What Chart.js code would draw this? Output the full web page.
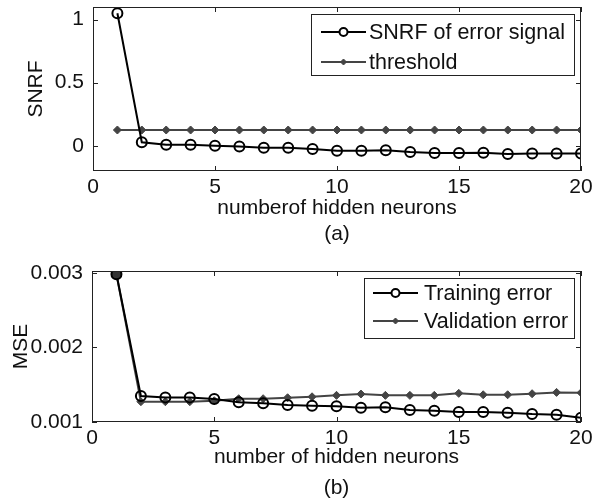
<!DOCTYPE html>
<html>
<head>
<meta charset="utf-8">
<script src="https://cdn.jsdelivr.net/npm/chart.js@4.4.1/dist/chart.umd.min.js"></script>
<style>
  body { margin: 0; background: #fff; }
  .box { position: relative; width: 592px; height: 252px; }
</style>
</head>
<body>
<div class="box"><canvas id="chartA"></canvas></div>
<div class="box"><canvas id="chartB"></canvas></div>
<script>
// hidden neurons count (x)
var neurons = [1,2,3,4,5,6,7,8,9,10,11,12,13,14,15,16,17,18,19,20];

// (a) SNRF
var snrfError = [1.05,0.028,0.008,0.008,0.0,-0.005,-0.016,-0.016,-0.026,-0.039,
                 -0.039,-0.036,-0.05,-0.058,-0.058,-0.056,-0.065,-0.062,-0.062,-0.062];
var snrfThreshold = [0.125,0.125,0.125,0.125,0.125,0.125,0.125,0.125,0.125,0.125,
                     0.125,0.125,0.125,0.125,0.125,0.125,0.125,0.125,0.125,0.125];

// (b) MSE
var trainErr = [0.00298,0.001348,0.00133,0.00133,0.001308,0.001264,0.00125,0.001227,0.001218,0.00121,
                0.001191,0.001197,0.00116,0.001151,0.001134,0.001134,0.001124,0.001107,0.001098,0.001058];
var validErr = [0.00298,0.001272,0.001272,0.001272,0.001285,0.001312,0.001312,0.001325,0.001338,0.001357,
                0.001375,0.001357,0.001357,0.001357,0.001384,0.001365,0.001365,0.001379,0.001397,0.001392];

var xTicks = [0,5,10,15,20];
var yTicksA = [0,0.5,1];
var yTicksB = [0.001,0.002,0.003];

var FONT = 'Liberation Sans, Arial, Helvetica, sans-serif';

function pts(ys) {
  return neurons.map(function(n, i){ return {x: n, y: ys[i]}; });
}

function noPad(s) {
  s.paddingLeft = 0; s.paddingRight = 0; s.paddingTop = 0; s.paddingBottom = 0;
}

// frame + inward ticks like matlab
var framePlugin = {
  id: 'frame',
  afterDatasetsDraw: function(chart) {
    var a = chart.chartArea, c = chart.ctx;
    var xs = chart.scales.x, ys = chart.scales.y;
    c.save();
    c.strokeStyle = '#222';
    c.lineWidth = 1;
    c.strokeRect(a.left + 0.5, a.top + 0.5, a.right - a.left - 1, a.bottom - a.top - 1);
    c.beginPath();
    xs.ticks.forEach(function(t){
      var p = Math.round(xs.getPixelForValue(t.value)) + 0.5;
      c.moveTo(p, a.bottom); c.lineTo(p, a.bottom - 5);
      c.moveTo(p, a.top); c.lineTo(p, a.top + 5);
    });
    ys.ticks.forEach(function(t){
      var p = Math.round(ys.getPixelForValue(t.value)) + 0.5;
      c.moveTo(a.left, p); c.lineTo(a.left + 5, p);
      c.moveTo(a.right, p); c.lineTo(a.right - 5, p);
    });
    c.stroke();
    c.restore();
  }
};

// legend box in the upper right corner
var boxLegend = {
  id: 'boxLegend',
  afterDraw: function(chart, args, o) {
    var a = chart.chartArea, c = chart.ctx;
    var left = a.right - o.inset - o.w, top = a.top + o.inset;
    c.save();
    c.fillStyle = '#fff';
    c.fillRect(left, top, o.w, o.h);
    c.strokeStyle = '#222';
    c.lineWidth = 1;
    c.strokeRect(Math.round(left) + 0.5, Math.round(top) + 0.5, o.w, o.h);
    chart.data.datasets.forEach(function(ds, i){
      var y = top + o.rows[i];
      var x0 = left + o.lineX[0], x1 = left + o.lineX[1];
      c.strokeStyle = ds.borderColor;
      c.lineWidth = ds.borderWidth;
      c.beginPath(); c.moveTo(x0, y); c.lineTo(x1, y); c.stroke();
      c.strokeStyle = ds.pointBorderColor;
      c.fillStyle = ds.legendFill;
      c.lineWidth = ds.pointBorderWidth;
      Chart.helpers.drawPoint(c, {
        pointStyle: ds.pointStyle, radius: ds.legendRadius, borderWidth: ds.pointBorderWidth
      }, (x0 + x1) / 2, y);
      c.fillStyle = '#111';
      c.font = '21.5px ' + FONT;
      c.textBaseline = 'middle';
      c.fillText(ds.label, left + o.textX, y + 1);
    });
    c.restore();
  }
};

function makeChart(id, cfg) {
  var yt = cfg.yTicks;
  return new Chart(document.getElementById(id), {
    type: 'line',
    data: { datasets: cfg.datasets },
    plugins: [framePlugin, boxLegend],
    options: {
      responsive: false,
      animation: false,
      maintainAspectRatio: false,
      layout: { padding: { top: cfg.top, right: 11, bottom: 0, left: 0 } },
      plugins: {
        legend: { display: false },
        tooltip: { enabled: false },
        boxLegend: cfg.legend
      },
      scales: {
        x: {
          type: 'linear', min: 0, max: 20,
          afterBuildTicks: function(s){ s.ticks = xTicks.map(function(v){ return {value: v}; }); },
          afterFit: function(s){ s.height = 252 - cfg.bottom; noPad(s); },
          grid: { display: false, drawTicks: false },
          border: { display: false },
          ticks: { color: '#111', padding: 4, font: { family: FONT, size: 21 }, maxRotation: 0 },
          title: {
            display: true, text: cfg.xTitle, color: '#111',
            font: { family: FONT, size: 21, lineHeight: cfg.titleLH },
            padding: { top: 0, bottom: cfg.titlePadB }
          }
        },
        y: {
          min: cfg.yMin, max: cfg.yMax,
          afterBuildTicks: function(s){ s.ticks = yt.map(function(v){ return {value: v}; }); },
          afterFit: function(s){ s.width = cfg.left; noPad(s); },
          grid: { display: false, drawTicks: false },
          border: { display: false },
          ticks: {
            color: '#111', padding: 9, font: { family: FONT, size: 21 },
            callback: function(v){ return cfg.fmt(v); }
          },
          title: {
            display: true, text: cfg.yTitle, color: '#111',
            font: { family: FONT, size: 21, lineHeight: 1.2 },
            padding: { top: cfg.yTitlePad, bottom: 0 }
          }
        }
      }
    }
  });
}

var canvasA = document.getElementById('chartA');
canvasA.width = 592; canvasA.height = 252;
var canvasB = document.getElementById('chartB');
canvasB.width = 592; canvasB.height = 252;

makeChart('chartA', {
  top: 5, bottom: 171, left: 93,
  yMin: -0.2, yMax: 1.1, yTicks: yTicksA,
  fmt: function(v){ return String(v); },
  xTitle: ['numberof hidden neurons', '(a)'], titleLH: 1.24, titlePadB: 5,
  yTitle: 'SNRF', yTitlePad: 24,
  legend: { inset: 7, w: 263, h: 61, rows: [18, 48], lineX: [10, 55], textX: 58 },
  datasets: [
    {
      label: 'SNRF of error signal', data: pts(snrfError),
      borderColor: '#000', borderWidth: 2, pointStyle: 'circle',
      pointRadius: 5, legendRadius: 4, pointBorderWidth: 2, legendFill: '#fff',
      pointBorderColor: '#000', pointBackgroundColor: 'rgba(255,255,255,0)', tension: 0
    },
    {
      label: 'threshold', data: pts(snrfThreshold),
      borderColor: '#444', borderWidth: 2, pointStyle: 'rectRot',
      pointRadius: 4, legendRadius: 3, pointBorderWidth: 1, legendFill: '#444',
      pointBorderColor: '#444', pointBackgroundColor: '#444', tension: 0
    }
  ]
});

makeChart('chartB', {
  top: 19, bottom: 170, left: 92,
  yMin: 0.001, yMax: 0.003024, yTicks: yTicksB,
  fmt: function(v){ return v.toFixed(3); },
  xTitle: ['number of hidden neurons', '(b)'], titleLH: 1.48, titlePadB: 0,
  yTitle: 'MSE', yTitlePad: 9,
  legend: { inset: 7, w: 210, h: 60, rows: [15, 43], lineX: [9, 54], textX: 60 },
  datasets: [
    {
      label: 'Training error', data: pts(trainErr),
      borderColor: '#000', borderWidth: 2, pointStyle: 'circle',
      pointRadius: 5, legendRadius: 4, pointBorderWidth: 2, legendFill: '#fff',
      pointBorderColor: '#000',
      pointBackgroundColor: function(ctx){ return ctx.dataIndex === 0 ? '#333' : 'rgba(255,255,255,0)'; },
      tension: 0
    },
    {
      label: 'Validation error', data: pts(validErr),
      borderColor: '#444', borderWidth: 2, pointStyle: 'rectRot',
      pointRadius: 4, legendRadius: 3, pointBorderWidth: 1, legendFill: '#444',
      pointBorderColor: '#444', pointBackgroundColor: '#444', tension: 0
    }
  ]
});
</script>
</body>
</html>
